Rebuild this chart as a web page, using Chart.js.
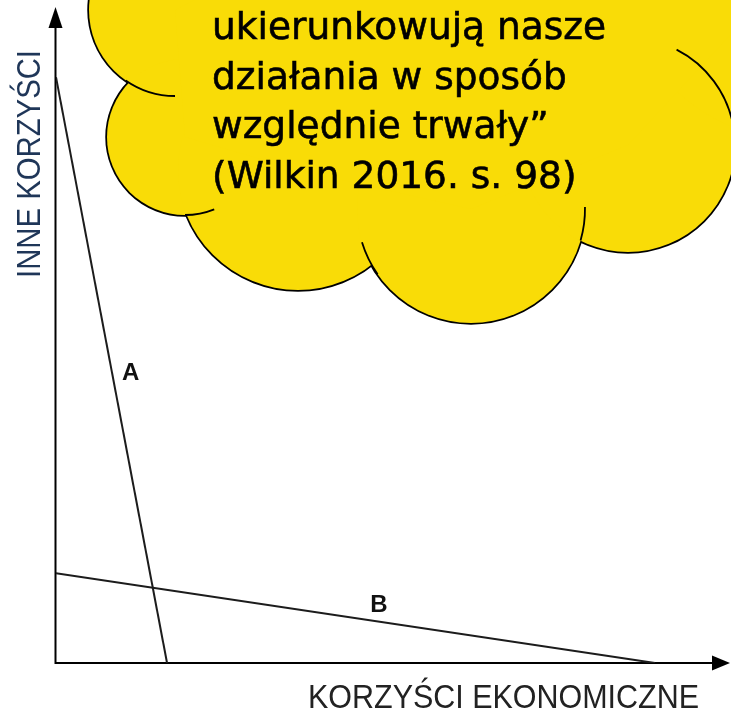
<!DOCTYPE html>
<html>
<head>
<meta charset="utf-8">
<script src="https://cdn.jsdelivr.net/npm/chart.js@4.4.1/dist/chart.umd.min.js"></script>
<style>
html, body { margin: 0; padding: 0; background: #fff; }
canvas { display: block; }
</style>
</head>
<body>
<canvas id="mycanvas" width="731" height="710"></canvas>
<script>
// curve A (steep) and B (flat), in axis units 0..100
var lineA_x = [0, 16.5];
var lineA_y = [89.3, 0];
var lineB_x = [0, 89.0];
var lineB_y = [13.7, 0];

var curveNames = ["A", "B"];
var curveLabelX = [11.1, 48.0];
var curveLabelY = [44.1, 8.8];

var xTitle = "KORZYŚCI EKONOMICZNE";
var yTitle = "INNE KORZYŚCI";
var quoteLines = ["ukierunkowują nasze", "działania w sposób", "względnie trwały”", "(Wilkin 2016. s. 98)"];

function toPoints(xs, ys) {
	var pts = [];
	for (var i in xs) {
		pts.push({ x: xs[i], y: ys[i] });
	}
	return pts;
}

var axesPlugin = {
	id: "axes",
	beforeDatasetsDraw: function(chart) {
		var ctx = chart.ctx;
		var a = chart.chartArea;
		ctx.save();
		ctx.strokeStyle = "#000";
		ctx.fillStyle = "#000";
		ctx.lineWidth = 2;
		ctx.beginPath();
		ctx.moveTo(a.left - 0.5, a.bottom);
		ctx.lineTo(a.left - 0.5, a.top + 14);
		ctx.moveTo(a.left - 1.5, a.bottom);
		ctx.lineTo(a.right - 14, a.bottom);
		ctx.stroke();
		// arrow heads
		ctx.beginPath();
		ctx.moveTo(a.left - 0.5, a.top);
		ctx.lineTo(a.left - 7.5, a.top + 21);
		ctx.lineTo(a.left + 6.5, a.top + 21);
		ctx.closePath();
		ctx.fill();
		ctx.beginPath();
		ctx.moveTo(a.right + 1, a.bottom);
		ctx.lineTo(a.right - 17, a.bottom - 7.5);
		ctx.lineTo(a.right - 17, a.bottom + 7.5);
		ctx.closePath();
		ctx.fill();
		ctx.restore();
	}
};

var textPlugin = {
	id: "texts",
	afterDraw: function(chart) {
		var ctx = chart.ctx;
		var a = chart.chartArea;
		var sx = chart.scales.x, sy = chart.scales.y;
		ctx.save();

		// curve names
		ctx.fillStyle = "#111";
		ctx.font = "bold 24px 'Liberation Sans', Arial, sans-serif";
		ctx.textAlign = "center";
		ctx.textBaseline = "middle";
		for (var i in curveNames) {
			ctx.fillText(curveNames[i], sx.getPixelForValue(curveLabelX[i]), sy.getPixelForValue(curveLabelY[i]));
		}

		// axis titles
		ctx.font = "34px 'Liberation Sans', Arial, sans-serif";
		ctx.textBaseline = "alphabetic";
		ctx.textAlign = "right";
		ctx.fillStyle = "#222";
		ctx.fillText(xTitle, a.right - 30, chart.height - 2, 391);

		ctx.save();
		ctx.translate(40, 278);
		ctx.rotate(-Math.PI / 2);
		ctx.textAlign = "left";
		ctx.fillStyle = "#1f3658";
		ctx.fillText(yTitle, 0, 0, 228);
		ctx.restore();

		// the yellow cloud with the quote
		var lobes = [[175, 10, 86], [185, 137, 78], [298, 170, 120], [471, 209, 114], [628, 145, 107], [800, -40, 180], [430, -120, 260]];
		ctx.strokeStyle = "#000";
		ctx.lineWidth = 3.5;
		for (var j in lobes) {
			ctx.beginPath();
			ctx.arc(lobes[j][0], lobes[j][1], lobes[j][2], 0, Math.PI * 2);
			ctx.stroke();
		}
		ctx.fillStyle = "#f9dc07";
		for (var k in lobes) {
			ctx.beginPath();
			ctx.arc(lobes[k][0], lobes[k][1], lobes[k][2], 0, Math.PI * 2);
			ctx.fill();
		}
		ctx.beginPath();
		ctx.moveTo(lobes[0][0], lobes[0][1]);
		for (var m = 1; m < lobes.length; m++) {
			ctx.lineTo(lobes[m][0], lobes[m][1]);
		}
		ctx.closePath();
		ctx.fill();

		// inner creases
		var deg = Math.PI / 180;
		var creases = [[0, 90, 125], [1, 68, 90], [3, 145, 163], [3, -1, 16], [4, -63, -10]];
		ctx.lineWidth = 1.8;
		for (var c in creases) {
			var L = lobes[creases[c][0]];
			ctx.beginPath();
			ctx.arc(L[0], L[1], L[2], creases[c][1] * deg, creases[c][2] * deg);
			ctx.stroke();
		}

		ctx.fillStyle = "#000";
		ctx.strokeStyle = "#000";
		ctx.lineWidth = 0.6;
		ctx.font = "37.5px 'DejaVu Sans', Verdana, sans-serif";
		ctx.textAlign = "left";
		for (var q in quoteLines) {
			ctx.fillText(quoteLines[q], 212, 39 + q * 49.7);
			ctx.strokeText(quoteLines[q], 212, 39 + q * 49.7);
		}
		ctx.restore();
	}
};

var ctx = document.getElementById("mycanvas");

var chart = new Chart(ctx, {
	type: "scatter",
	data: {
		datasets: [
			{
				label: "A",
				data: toPoints(lineA_x, lineA_y),
				showLine: true,
				borderColor: "#1c1c1c",
				borderWidth: 2,
				pointRadius: 0,
				tension: 0
			},
			{
				label: "B",
				data: toPoints(lineB_x, lineB_y),
				showLine: true,
				borderColor: "#1c1c1c",
				borderWidth: 2,
				pointRadius: 0,
				tension: 0
			}
		]
	},
	options: {
		responsive: false,
		animation: false,
		layout: { padding: { left: 56, right: 2, top: 7, bottom: 47 } },
		scales: {
			x: { type: "linear", min: 0, max: 100, display: false },
			y: { type: "linear", min: 0, max: 100, display: false }
		},
		plugins: {
			legend: { display: false },
			tooltip: { enabled: false }
		}
	},
	plugins: [axesPlugin, textPlugin]
});
</script>
</body>
</html>
